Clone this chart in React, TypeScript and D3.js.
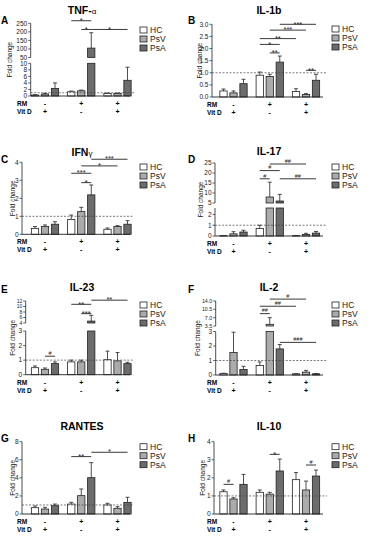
import * as d3 from "d3";
import React from "react";

const groups = ["g1", "g2", "g3"];
const series = ["HC", "PsV", "PsA"];
const seriesFill = ["#ffffff", "#ababab", "#6c6c6c"];
const rmSigns = ["-", "+", "+"];
const vitDSigns = ["+", "-", "+"];

// mean / upper error per group (rows) and series (HC, PsV, PsA)
const tnfMean = [[0.3, 0.6, 2.3], [1.3, 1.6, 105], [0.8, 0.8, 4.8]];
const tnfErr = [[0.4, 0.8, 4.0], [1.5, 1.8, 195], [0.9, 0.9, 8.8]];
const tnfSig = [
  { a: [1, 0], b: [1, 2], at: 265, label: "*" },
  { a: [1, 1], b: [1, 2], at: 214, label: "*" },
  { a: [1, 2], b: [2, 2], at: 214, label: "*" },
];

const il1bMean = [[0.25, 0.17, 0.55], [0.9, 0.85, 1.44], [0.23, 0.1, 0.69]];
const il1bErr = [[0.33, 0.25, 0.73], [1.03, 0.94, 1.69], [0.34, 0.14, 0.94]];
const il1bSig = [
  { a: [1, 2], b: [2, 2], at: 3.0, label: "***" },
  { a: [1, 1], b: [2, 1], at: 2.76, label: "***" },
  { a: [1, 0], b: [2, 0], at: 2.41, label: "**" },
  { a: [1, 0], b: [1, 2], at: 2.17, label: "*" },
  { a: [1, 1], b: [1, 2], at: 1.82, label: "**" },
  { a: [2, 1], b: [2, 2], at: 1.1, label: "**" },
];

const ifnMean = [[0.33, 0.43, 0.56], [0.83, 1.26, 2.19], [0.28, 0.43, 0.56]];
const ifnErr = [[0.43, 0.52, 0.7], [1.07, 1.5, 2.74], [0.35, 0.48, 0.76]];
const ifnSig = [
  { a: [1, 2], b: [2, 2], at: 4.17, label: "***" },
  { a: [1, 1], b: [2, 1], at: 3.8, label: "*" },
  { a: [1, 0], b: [1, 2], at: 3.39, label: "***" },
  { a: [1, 1], b: [1, 2], at: 2.87, label: "*" },
];

const il17Mean = [[0.03, 0.2, 0.37], [0.69, 8, 6], [0.03, 0.15, 0.27]];
const il17Err = [[0.05, 0.4, 0.53], [1.0, 15.4, 9.3], [0.05, 0.25, 0.42]];
const il17Sig = [
  { a: [1, 1], b: [2, 1], at: 24.5, label: "##" },
  { a: [1, 0], b: [1, 2], at: 21.2, label: "#" },
  { a: [1, 0], b: [1, 1], at: 17.1, label: "#" },
  { a: [1, 2], b: [2, 2], at: 17.1, label: "##" },
];

const il23Mean = [[0.48, 0.37, 0.76], [0.88, 0.88, 4.7], [1.03, 0.95, 0.76]];
const il23Err = [[0.6, 0.46, 0.88], [1.0, 1.0, 6.8], [1.62, 1.52, 0.85]];
const il23Sig = [
  { a: [1, 2], b: [2, 2], at: 12.3, label: "**" },
  { a: [1, 0], b: [1, 2], at: 10.8, label: "**" },
  { a: [1, 1], b: [1, 2], at: 7.4, label: "***" },
  { a: [0, 1], b: [0, 2], at: 1.27, label: "#" },
];

const il2Mean = [[0.1, 1.55, 0.38], [0.65, 4.2, 1.8], [0.08, 0.2, 0.08]];
const il2Err = [[0.12, 2.95, 0.6], [0.9, 7.0, 2.1], [0.1, 0.32, 0.1]];
const il2Sig = [
  { a: [1, 1], b: [2, 1], at: 14.8, label: "#" },
  { a: [1, 0], b: [2, 0], at: 11.8, label: "##" },
  { a: [1, 0], b: [1, 1], at: 8.7, label: "##" },
  { a: [1, 2], b: [2, 2], at: 2.25, label: "###" },
];

const rantesMean = [[0.7, 0.55, 0.92], [1.1, 2.03, 4.02], [1.0, 0.63, 1.29]];
const rantesErr = [[0.89, 0.74, 1.1], [1.29, 2.77, 5.68], [1.18, 0.81, 1.85]];
const rantesSig = [
  { a: [1, 0], b: [1, 2], at: 6.35, label: "**" },
  { a: [1, 2], b: [2, 2], at: 6.83, label: "*" },
];

const il10Mean = [[1.23, 0.83, 1.64], [1.2, 1.1, 2.38], [1.9, 1.33, 2.1]];
const il10Err = [[1.33, 0.9, 2.19], [1.33, 1.2, 3.04], [2.29, 1.82, 2.43]];
const il10Sig = [
  { a: [0, 0], b: [0, 1], at: 1.64, label: "#" },
  { a: [1, 1], b: [1, 2], at: 3.3, label: "*" },
  { a: [2, 1], b: [2, 2], at: 2.71, label: "#" },
];

// layout per column
const colRange = [[45, 117.5], [233.5, 306]];
const colEnd = [130, 323];
const legendX = [140, 332];
const rowLabelX = [17, 207];
const letterX = [1, 188];

const panels = [
  {
    letter: "A", title: ["TNF-", "α"], col: 0, axisX: 30.7, titleY: 14, letterY: 24, legendY: 30, labelX: 10,
    segs: [
      { d: [0, 10], r: [96, 63.3], ticks: [0, 2, 4, 6, 8, 10] },
      { d: [50, 250], r: [57.5, 23.3], ticks: [50, 100, 150, 200, 250] },
    ],
    mean: tnfMean, err: tnfErr, sig: tnfSig,
  },
  {
    letter: "B", title: ["IL-1b"], col: 1, axisX: 212, titleY: 14, letterY: 24, legendY: 29, labelX: 200,
    segs: [{ d: [0, 3], r: [97, 24.3], ticks: [0, 0.5, 1, 1.5, 2, 2.5, 3], fmt: ".1f" }],
    mean: il1bMean, err: il1bErr, sig: il1bSig,
  },
  {
    letter: "C", title: ["IFN", "γ"], col: 0, axisX: 22, titleY: 156, letterY: 163, legendY: 167, labelX: 13,
    segs: [{ d: [0, 4], r: [234.3, 162.3], ticks: [0, 1, 2, 3, 4] }],
    mean: ifnMean, err: ifnErr, sig: ifnSig,
  },
  {
    letter: "D", title: ["IL-17"], col: 1, axisX: 215, titleY: 155, letterY: 163, legendY: 167, labelX: 201,
    segs: [
      { d: [0, 2.6], r: [236, 208], ticks: [0, 1, 2] },
      { d: [5, 25], r: [203, 163], ticks: [5, 10, 15, 20, 25] },
    ],
    mean: il17Mean, err: il17Err, sig: il17Sig,
  },
  {
    letter: "E", title: ["IL-23"], col: 0, axisX: 25.7, titleY: 290.5, letterY: 293, legendY: 305, labelX: 13,
    segs: [
      { d: [0, 3], r: [374.7, 331], ticks: [0, 1, 2, 3] },
      { d: [4, 12], r: [323, 301], ticks: [4, 6, 8, 10, 12], size: 5 },
    ],
    mean: il23Mean, err: il23Err, sig: il23Sig,
  },
  {
    letter: "F", title: ["IL-2"], col: 1, axisX: 215.7, titleY: 290.5, letterY: 293, legendY: 305, labelX: 198,
    segs: [
      { d: [0, 3], r: [375, 331.5], ticks: [0, 1, 2, 3] },
      { d: [3.5, 14], r: [326, 301], ticks: [3.5, 7, 10.5, 14], fmt: ".1f", size: 5.3 },
    ],
    mean: il2Mean, err: il2Err, sig: il2Sig,
  },
  {
    letter: "G", title: ["RANTES"], col: 0, axisX: 22, titleY: 430, letterY: 442, legendY: 446.7, labelX: 13,
    segs: [{ d: [0, 8], r: [514, 441.7], ticks: [0, 2, 4, 6, 8] }],
    mean: rantesMean, err: rantesErr, sig: rantesSig,
  },
  {
    letter: "H", title: ["IL-10"], col: 1, axisX: 214, titleY: 430, letterY: 442, legendY: 446.7, labelX: 203,
    segs: [{ d: [0, 4], r: [514, 441.7], ticks: [0, 1, 2, 3, 4] }],
    mean: il10Mean, err: il10Err, sig: il10Sig,
  },
];

const FONT = "Arial, 'Liberation Sans', sans-serif";

function Panel({ p }: { p: any }) {
  const scales = p.segs.map((s: any) => d3.scaleLinear().domain(s.d).range(s.r));
  const y = (v: number) => {
    for (let i = 0; i < p.segs.length; i++) {
      const s = p.segs[i];
      if (v <= s.d[1] || i === p.segs.length - 1) {
        if (i > 0 && v < s.d[0]) return scales[i - 1](p.segs[i - 1].d[1]);
        return scales[i](v);
      }
    }
    return 0;
  };
  const xg = d3.scalePoint<string>().domain(groups).range(colRange[p.col] as [number, number]);
  const xs = d3.scaleBand<string>().domain(series).range([-13.65, 13.65]).paddingInner(0.27);
  const bw = xs.bandwidth();
  const cx = (g: number, s: number) => (xg(groups[g]) as number) + (xs(series[s]) as number) + bw / 2;
  const baseY = p.segs[0].r[0];
  const end = colEnd[p.col];
  const midY = (baseY + p.segs[p.segs.length - 1].r[1]) / 2;

  return (
    <g fontFamily={FONT}>
      <text x={letterX[p.col]} y={p.letterY} fontSize={10} fontWeight="bold">{p.letter}</text>
      <text x={p.col === 0 ? 82 : 269} y={p.titleY} fontSize={10.5} fontWeight="bold" textAnchor="middle">
        {p.title[0]}
        {p.title[1] && <tspan fontSize={8} fontWeight="normal">{p.title[1]}</tspan>}
      </text>

      {/* y axis segments */}
      {p.segs.map((s: any, i: number) => {
        const fmt = d3.format(s.fmt || "~g");
        return (
          <g key={i}>
            <line x1={p.axisX} x2={p.axisX} y1={s.r[0]} y2={s.r[1]} stroke="#222" strokeWidth={0.8} />
            {s.ticks.map((t: number) => (
              <g key={t}>
                <line x1={p.axisX - 2.5} x2={p.axisX} y1={scales[i](t)} y2={scales[i](t)} stroke="#222" strokeWidth={0.7} />
                <text x={p.axisX - 3.5} y={scales[i](t)} dy="0.35em" fontSize={s.size || 6.5} textAnchor="end" fill="#222">
                  {fmt(t)}
                </text>
              </g>
            ))}
          </g>
        );
      })}
      <text transform={`translate(${p.labelX},${midY}) rotate(-90)`} fontSize={6.5} textAnchor="middle" dy="0.35em" fill="#222">
        Fold change
      </text>

      {/* bars */}
      {p.mean.map((row: number[], g: number) =>
        row.map((v: number, s: number) => {
          const x = cx(g, s) - bw / 2;
          const pieces = p.segs
            .map((sg: any, i: number) => {
              if (v <= sg.d[0] && i > 0) return null;
              const top = scales[i](Math.min(v, sg.d[1]));
              const bot = i === 0 ? baseY : sg.r[0];
              return <rect key={i} x={x} y={top} width={bw} height={Math.max(0.4, bot - top)} fill={seriesFill[s]} stroke="#222" strokeWidth={0.8} />;
            });
          const e = p.err[g][s];
          return (
            <g key={`${g}-${s}`}>
              <line x1={cx(g, s)} x2={cx(g, s)} y1={y(v)} y2={y(e)} stroke="#222" strokeWidth={0.8} />
              <line x1={cx(g, s) - 2} x2={cx(g, s) + 2} y1={y(e)} y2={y(e)} stroke="#222" strokeWidth={0.8} />
              {pieces}
            </g>
          );
        })
      )}

      {/* x axis + reference line */}
      <line x1={p.axisX} x2={end} y1={baseY} y2={baseY} stroke="#222" strokeWidth={0.9} />
      <line x1={p.axisX} x2={end + 4} y1={y(1)} y2={y(1)} stroke="#444" strokeWidth={0.7} strokeDasharray="2,1.5" />

      {/* significance brackets */}
      {p.sig.map((k: any, i: number) => {
        const x1 = cx(k.a[0], k.a[1]);
        const x2 = cx(k.b[0], k.b[1]);
        const ly = y(k.at);
        const star = k.label.startsWith("*");
        return (
          <g key={i}>
            <line x1={x1} x2={x2} y1={ly} y2={ly} stroke="#222" strokeWidth={0.9} />
            <text x={(x1 + x2) / 2} y={star ? ly + 2.2 : ly - 1.2} fontSize={star ? 7.5 : 5.5} textAnchor="middle" fill="#222">
              {k.label}
            </text>
          </g>
        );
      })}

      {/* RM / Vit D rows */}
      <text x={rowLabelX[p.col]} y={baseY + 10} fontSize={6.5} fontWeight="bold">RM</text>
      <text x={rowLabelX[p.col]} y={baseY + 18} fontSize={6.5} fontWeight="bold">Vit D</text>
      {groups.map((gk, g) => (
        <g key={gk} fontSize={7} fontWeight="bold" textAnchor="middle">
          <text x={xg(gk)} y={baseY + 10}>{rmSigns[g]}</text>
          <text x={xg(gk)} y={baseY + 18}>{vitDSigns[g]}</text>
        </g>
      ))}

      {/* legend */}
      {series.map((s, i) => (
        <g key={s}>
          <rect x={legendX[p.col]} y={p.legendY + i * 9 - 3} width={7} height={6} fill={seriesFill[i]} stroke="#222" strokeWidth={0.8} />
          <text x={legendX[p.col] + 10} y={p.legendY + i * 9} dy="0.35em" fontSize={8.5} fill="#222">{s}</text>
        </g>
      ))}
    </g>
  );
}

export default function App() {
  return (
    <svg width={387} height={538} style={{ position: "absolute", left: 0, top: 0, background: "#fff" }}>
      {panels.map((p) => (
        <Panel key={p.letter} p={p} />
      ))}
    </svg>
  );
}
